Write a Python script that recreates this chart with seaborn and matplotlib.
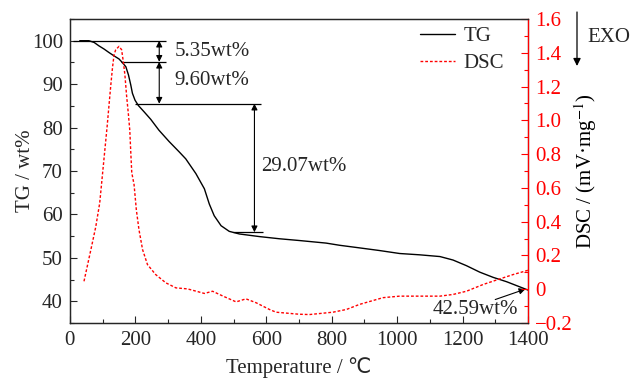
import matplotlib
matplotlib.use('Agg')
import matplotlib.pyplot as plt
from matplotlib.ticker import MultipleLocator, FuncFormatter
import pandas as pd
import seaborn as sns

# TG curve (wt%)
tg_temp = [30, 58, 74, 89, 104, 119, 135, 150, 160, 171, 179, 186, 191, 199, 209,
           227, 247, 272, 303, 334, 354, 385, 411, 426, 441, 462, 487, 518, 579,
           640, 700, 783, 824, 885, 945, 1008, 1069, 1131, 1171, 1212, 1253, 1294,
           1335, 1400]
tg_vals = [100.0, 100.0, 99.6, 98.8, 98.1, 97.3, 96.5, 95.8, 95.0, 94.0, 92.1, 89.8,
           87.9, 86.3, 85.1, 83.6, 81.9, 79.4, 76.8, 74.4, 72.8, 69.4, 65.9, 62.4,
           59.7, 57.4, 56.1, 55.5, 54.9, 54.4, 54.0, 53.4, 52.9, 52.3, 51.7, 51.0,
           50.7, 50.3, 49.5, 48.2, 46.7, 45.5, 44.5, 42.59]

# DSC curve (mV/mg)
dsc_temp = [43, 53, 68, 79, 91, 99, 107, 114, 119, 125, 130, 135, 140, 150, 158,
            163, 168, 173, 179, 183, 186, 189, 196, 203, 211, 222, 237, 262, 293,
            324, 359, 375, 411, 436, 467, 508, 538, 569, 610, 630, 700, 732, 804,
            845, 885, 957, 1008, 1131, 1171, 1212, 1263, 1314, 1355, 1400]
dsc_vals = [0.047, 0.136, 0.27, 0.37, 0.51, 0.67, 0.83, 0.97, 1.08, 1.21, 1.31, 1.39,
            1.418, 1.438, 1.418, 1.35, 1.27, 1.15, 1.03, 0.94, 0.81, 0.69, 0.62,
            0.47, 0.353, 0.235, 0.146, 0.087, 0.038, 0.008, 0.002, -0.006, -0.025,
            -0.012, -0.04, -0.075, -0.057, -0.08, -0.12, -0.136, -0.148, -0.15,
            -0.136, -0.12, -0.09, -0.05, -0.041, -0.041, -0.031, -0.012, 0.028,
            0.061, 0.087, 0.112]

# mass loss steps and the levels where they are marked
steps = [5.35, 9.60, 29.07]
step_levels = [100.0, 95.15, 85.5, 55.9]
residue = 42.59

sns.set_style('ticks')
plt.rcParams['font.family'] = ['Liberation Serif', 'DejaVu Sans']
plt.rcParams['mathtext.fontset'] = 'stix'
plt.rcParams['font.size'] = 15

tg_df = pd.DataFrame({'T': tg_temp, 'TG': tg_vals})
dsc_df = pd.DataFrame({'T': dsc_temp, 'DSC': dsc_vals})

fig = plt.figure(figsize=(6.3, 3.8), dpi=100)
ax = fig.add_axes([0.111, 0.15, 0.727, 0.80])
ax2 = ax.twinx()

sns.lineplot(data=tg_df, x='T', y='TG', ax=ax, color='black', lw=1.0, label='TG', legend=False)
sns.lineplot(data=dsc_df, x='T', y='DSC', ax=ax2, color='red', lw=1.0,
             linestyle=(0, (2, 1.4)), label='DSC', legend=False)

ax.set_xlim(0, 1400)
ax.set_ylim(35, 105)
ax2.set_ylim(-0.2, 1.6)

ax.xaxis.set_major_locator(MultipleLocator(200))
ax.xaxis.set_minor_locator(MultipleLocator(100))
ax.yaxis.set_minor_locator(MultipleLocator(5))
ax.set_yticks(range(40, 101, 10))
ax2.yaxis.set_major_locator(MultipleLocator(0.2))
ax2.yaxis.set_minor_locator(MultipleLocator(0.1))
ax2.yaxis.set_major_formatter(FuncFormatter(
    lambda v, _: '0' if abs(v) < 1e-9 else f'{v:.1f}'.replace('-', '\u2212')))

for a in (ax, ax2):
    a.tick_params(which='major', direction='in', length=5, width=0.8, labelsize=15)
    a.tick_params(which='minor', direction='in', length=3, width=0.8)
ax.tick_params(axis='x', which='major', pad=6)
ax.tick_params(axis='y', which='major', pad=5)
ax2.tick_params(axis='y', which='major', pad=5)
ax2.tick_params(axis='y', which='both', colors='red', labelcolor='red')
ax2.spines['right'].set_color('red')
for s in list(ax.spines.values()) + list(ax2.spines.values()):
    s.set_linewidth(0.9)

ax.set_xlabel('Temperature / \u2103', fontsize=15, labelpad=5)
ax.set_ylabel('TG / wt%', fontsize=15, labelpad=-2)
ax2.set_ylabel('DSC / (mV\u00b7mg$^{-1}$)', fontsize=15, color='black', labelpad=0)

# step annotation lines
ax.hlines(step_levels[0], 10, 293, color='black', lw=0.9)
ax.hlines(step_levels[1], 155, 293, color='black', lw=0.9)
ax.hlines(step_levels[2], 199, 584, color='black', lw=0.9)
ax.hlines(step_levels[3], 497, 589, color='black', lw=0.9)

arrow = dict(arrowstyle='<|-|>', color='black', lw=0.8, shrinkA=0, shrinkB=0,
             mutation_scale=9)
ax.annotate('', xy=(273, step_levels[0]), xytext=(273, step_levels[1]), arrowprops=arrow)
ax.annotate('', xy=(273, step_levels[1]), xytext=(273, step_levels[2]), arrowprops=arrow)
ax.annotate('', xy=(564, step_levels[2]), xytext=(564, step_levels[3]), arrowprops=arrow)

ax.text(319, 97.5, f'{steps[0]:.2f}wt%', va='center', ha='left', fontsize=15)
ax.text(319, 90.9, f'{steps[1]:.2f}wt%', va='center', ha='left', fontsize=15)
ax.text(585, 71.0, f'{steps[2]:.2f}wt%', va='center', ha='left', fontsize=15)
ax.text(1370, 38.2, f'{residue:.2f}wt%', va='center', ha='right', fontsize=15)
ax.annotate('', xy=(1392, 42.8), xytext=(1300, 40.4),
            arrowprops=dict(arrowstyle='-|>', color='black', lw=0.8,
                            shrinkA=0, shrinkB=0, mutation_scale=9))

# legend
h1, l1 = ax.get_legend_handles_labels()
h2, l2 = ax2.get_legend_handles_labels()
ax2.legend(h1 + h2, l1 + l2, loc='upper left', bbox_to_anchor=(0.764, 0.975),
           borderaxespad=0, borderpad=0, frameon=False, fontsize=15,
           handlelength=1.7, handletextpad=0.4, labelspacing=0.35)

# EXO marker outside the axes
ax.annotate('', xy=(577 / 630, 1 - 66 / 380), xytext=(577 / 630, 1 - 12 / 380),
            xycoords='figure fraction', textcoords='figure fraction',
            arrowprops=dict(arrowstyle='-|>', color='black', lw=0.9,
                            shrinkA=0, shrinkB=0, mutation_scale=11))
fig.text(587 / 630, 1 - 37 / 380, 'EXO', ha='left', va='center', fontsize=15)

fig.savefig('out.png', dpi=100)
